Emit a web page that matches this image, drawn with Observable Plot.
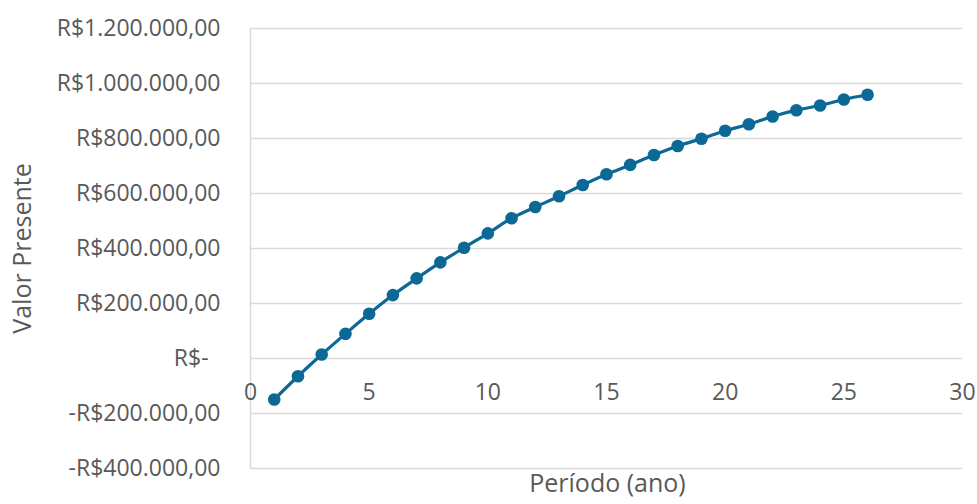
<!DOCTYPE html>
<html>
<head>
<meta charset="utf-8">
<script src="https://cdn.jsdelivr.net/npm/d3@7"></script>
<script src="https://cdn.jsdelivr.net/npm/@observablehq/plot@0.6"></script>
<style>
  html, body { margin: 0; padding: 0; background: #fff; }
  #chart svg { display: block; }
</style>
</head>
<body>
<div id="chart"></div>
<script>
const periods = [1, 2, 3, 4, 5, 6, 7, 8, 9, 10, 11, 12, 13, 14, 15, 16, 17, 18, 19, 20, 21, 22, 23, 24, 25, 26];
const presentValues = [-149000, -64500, 14600, 89600, 162500, 230600, 291400, 349700, 403000, 455000,
  510000, 551000, 590000, 631000, 670000, 704000, 740000, 773000, 799000, 828000,
  852000, 880000, 903000, 920000, 942000, 959000];
const yTicks = [-400000, -200000, 0, 200000, 400000, 600000, 800000, 1000000, 1200000];
const yTickLabels = ["-R$400.000,00", "-R$200.000,00", "R$-\u00A0\u00A0", "R$200.000,00", "R$400.000,00",
  "R$600.000,00", "R$800.000,00", "R$1.000.000,00", "R$1.200.000,00"];
const xTicks = [0, 5, 10, 15, 20, 25, 30];
const xTitle = "Período (ano)";
const yTitle = "Valor Presente";

const data = periods.map((p, i) => ({period: p, value: presentValues[i]}));
const yLabelMap = new Map(yTicks.map((t, i) => [t, yTickLabels[i]]));

const lineColor = "#0c6894";
const textColor = "#595959";
const gridColor = "#d9d9d9";

const chart = Plot.plot({
  width: 977,
  height: 504,
  marginLeft: 250,
  marginRight: 15,
  marginTop: 28,
  marginBottom: 36,
  style: {fontFamily: "'Open Sans', sans-serif", color: textColor, background: "#fff"},
  x: {domain: [0, 30], axis: null},
  y: {domain: [-400000, 1200000], axis: null},
  marks: [
    Plot.gridY(yTicks, {stroke: gridColor, strokeOpacity: 1, strokeWidth: 1.5}),
    Plot.ruleX([0], {stroke: gridColor, strokeWidth: 1.5}),
    Plot.axisY({ticks: yTicks, tickSize: 0, tickPadding: 30, fontSize: 23, label: null,
      tickFormat: d => yLabelMap.get(d), fill: textColor}),
    Plot.text(xTicks, {x: d => d, y: 0, dy: 34, text: d => String(d), fontSize: 23, fill: textColor}),
    Plot.line(data, {x: "period", y: "value", stroke: lineColor, strokeWidth: 3.2, curve: "catmull-rom"}),
    Plot.dot(data, {x: "period", y: "value", r: 6.3, fill: lineColor, stroke: "none"}),
    Plot.text([yTitle], {frameAnchor: "left", textAnchor: "middle", rotate: -90, dx: -228, fontSize: 25, fill: textColor}),
    Plot.text([xTitle], {frameAnchor: "bottom", dy: 23, dx: 1, fontSize: 25, fill: textColor})
  ]
});
document.getElementById("chart").appendChild(chart);
</script>
</body>
</html>
